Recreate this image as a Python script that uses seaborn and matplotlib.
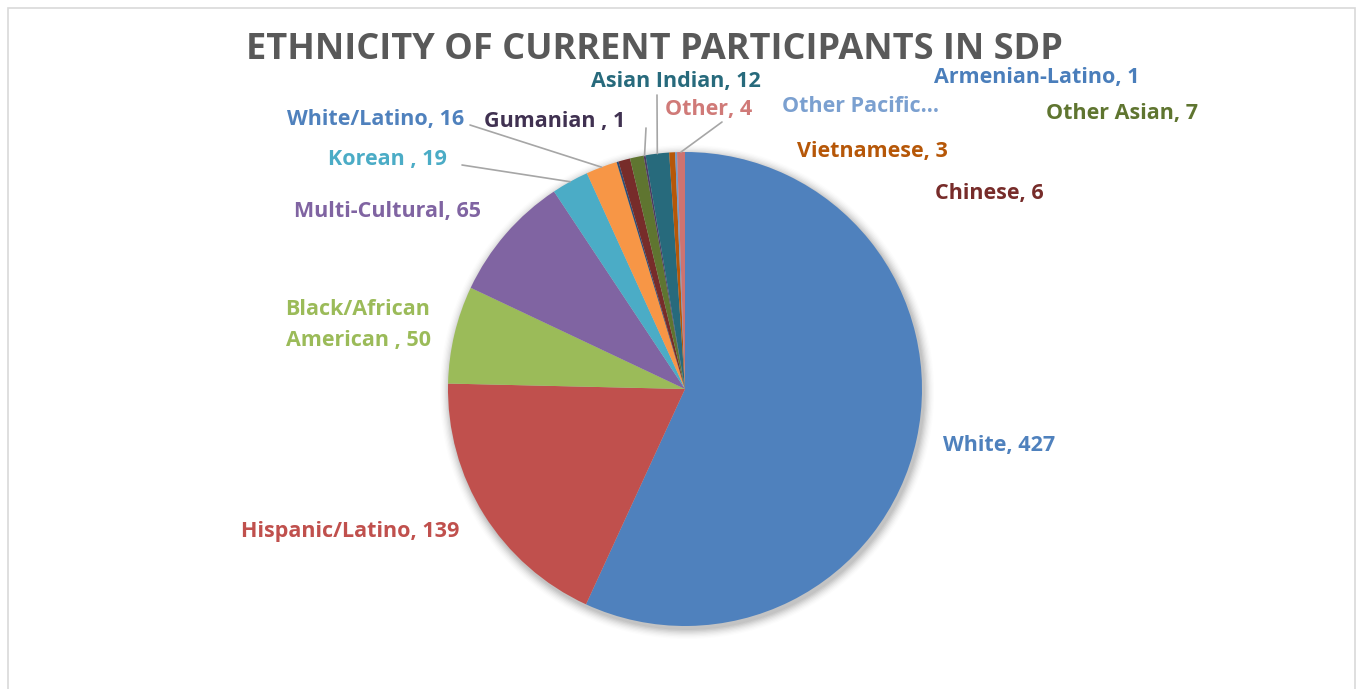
import numpy as np
import matplotlib
matplotlib.use("Agg")
import matplotlib.pyplot as plt
import seaborn as sns
from matplotlib.patches import Circle, Rectangle

categories = ["White", "Hispanic/Latino", "Black/African American ", "Multi-Cultural", "Korean ",
              "White/Latino", "Armenian-Latino", "Chinese", "Other Asian", "Gumanian ",
              "Asian Indian", "Vietnamese", "Other Pacific Islander", "Other"]
values = [427, 139, 50, 65, 19, 16, 1, 6, 7, 1, 12, 3, 1, 4]
label_texts = ["White, 427", "Hispanic/Latino, 139", "Black/African\nAmerican , 50", "Multi-Cultural, 65",
               "Korean , 19", "White/Latino, 16", "Armenian-Latino, 1", "Chinese, 6", "Other Asian, 7",
               "Gumanian , 1", "Asian Indian, 12", "Vietnamese, 3", "Other Pacific…", "Other, 4"]
slice_colors = ["#4F81BD", "#C0504D", "#9BBB59", "#8064A2", "#4BACC6", "#F79646",
                "#2C4D75", "#772C2A", "#5F7530", "#4D3B62", "#276A7C", "#B65708", "#729ACA", "#CD7371"]
label_colors = ["#4F81BD", "#C0504D", "#9BBB59", "#8064A2", "#4BACC6", "#4F81BD",
                "#4A7EBB", "#772C2A", "#5F7530", "#403151", "#276A7C", "#B65708", "#7BA0D0", "#D07A78"]

sns.set_theme(style="white")
plt.rcParams['font.family'] = ["Open Sans", 'DejaVu Sans']

W, H = 1363, 689
fig = plt.figure(figsize=(W / 100, H / 100), dpi=100)
fig.patch.set_facecolor("white")
ax = fig.add_axes([0, 0, 1, 1])

# frame
fig.patches.append(Rectangle((8 / W, -0.05), (W - 16) / W, (H - 8) / H + 0.05,
                             transform=fig.transFigure, fill=False, edgecolor="#D9D9D9", lw=1.2))

cx, cy, R = 685, H - 389, 237
# soft shadow
for i, a in enumerate(np.linspace(0.05, 0.012, 8)):
    ax.add_patch(Circle((cx + 2, cy - 3), R + 1 + i * 1.3, color="black", alpha=a, lw=0, zorder=0))

wedges, _ = ax.pie(values, colors=slice_colors, startangle=90, counterclock=False,
                   center=(cx, cy), radius=R, frame=True,
                   wedgeprops=dict(linewidth=0))
ax.set_xlim(0, W)
ax.set_ylim(0, H)
ax.set_aspect("equal")
ax.axis("off")

# label positions (image pixel coords, centre of text)
label_pos = {
    "White": (999, 446), "Hispanic/Latino": (350, 532), "Black/African American ": (358, 325),
    "Multi-Cultural": (388, 212), "Korean ": (387, 160), "White/Latino": (376, 120),
    "Armenian-Latino": (1037, 77), "Chinese": (989, 194), "Other Asian": (1122, 113),
    "Gumanian ": (555, 122), "Asian Indian": (676, 82), "Vietnamese": (872, 152),
    "Other Pacific Islander": (861, 107), "Other": (709, 110),
}
leaders = {"Korean ": (462, 165), "White/Latino": (470, 125), "Gumanian ": (646, 128),
           "Asian Indian": (657, 95), "Other": (722, 122)}

for w, cat, txt, lc in zip(wedges, categories, label_texts, label_colors):
    x, y = label_pos[cat]
    ax.text(x, H - y, txt, ha="center", va="center", fontsize=15.5, fontweight="bold",
            color=lc, linespacing=1.6, zorder=5)
    if cat in leaders:
        ang = np.deg2rad((w.theta1 + w.theta2) / 2)
        ex, ey = cx + R * np.cos(ang), cy + R * np.sin(ang)
        sx, sy = leaders[cat]
        ax.annotate("", xy=(ex, ey), xytext=(sx, H - sy),
                    arrowprops=dict(arrowstyle="-", color="#A6A6A6", lw=1.2,
                                    shrinkA=0, shrinkB=0), zorder=4)

ax.text(654, H - 50, "ETHNICITY OF CURRENT PARTICIPANTS IN SDP", ha="center", va="center",
        fontsize=26, fontweight="bold", color="#595959")

fig.savefig("out.png", dpi=100, facecolor="white")
